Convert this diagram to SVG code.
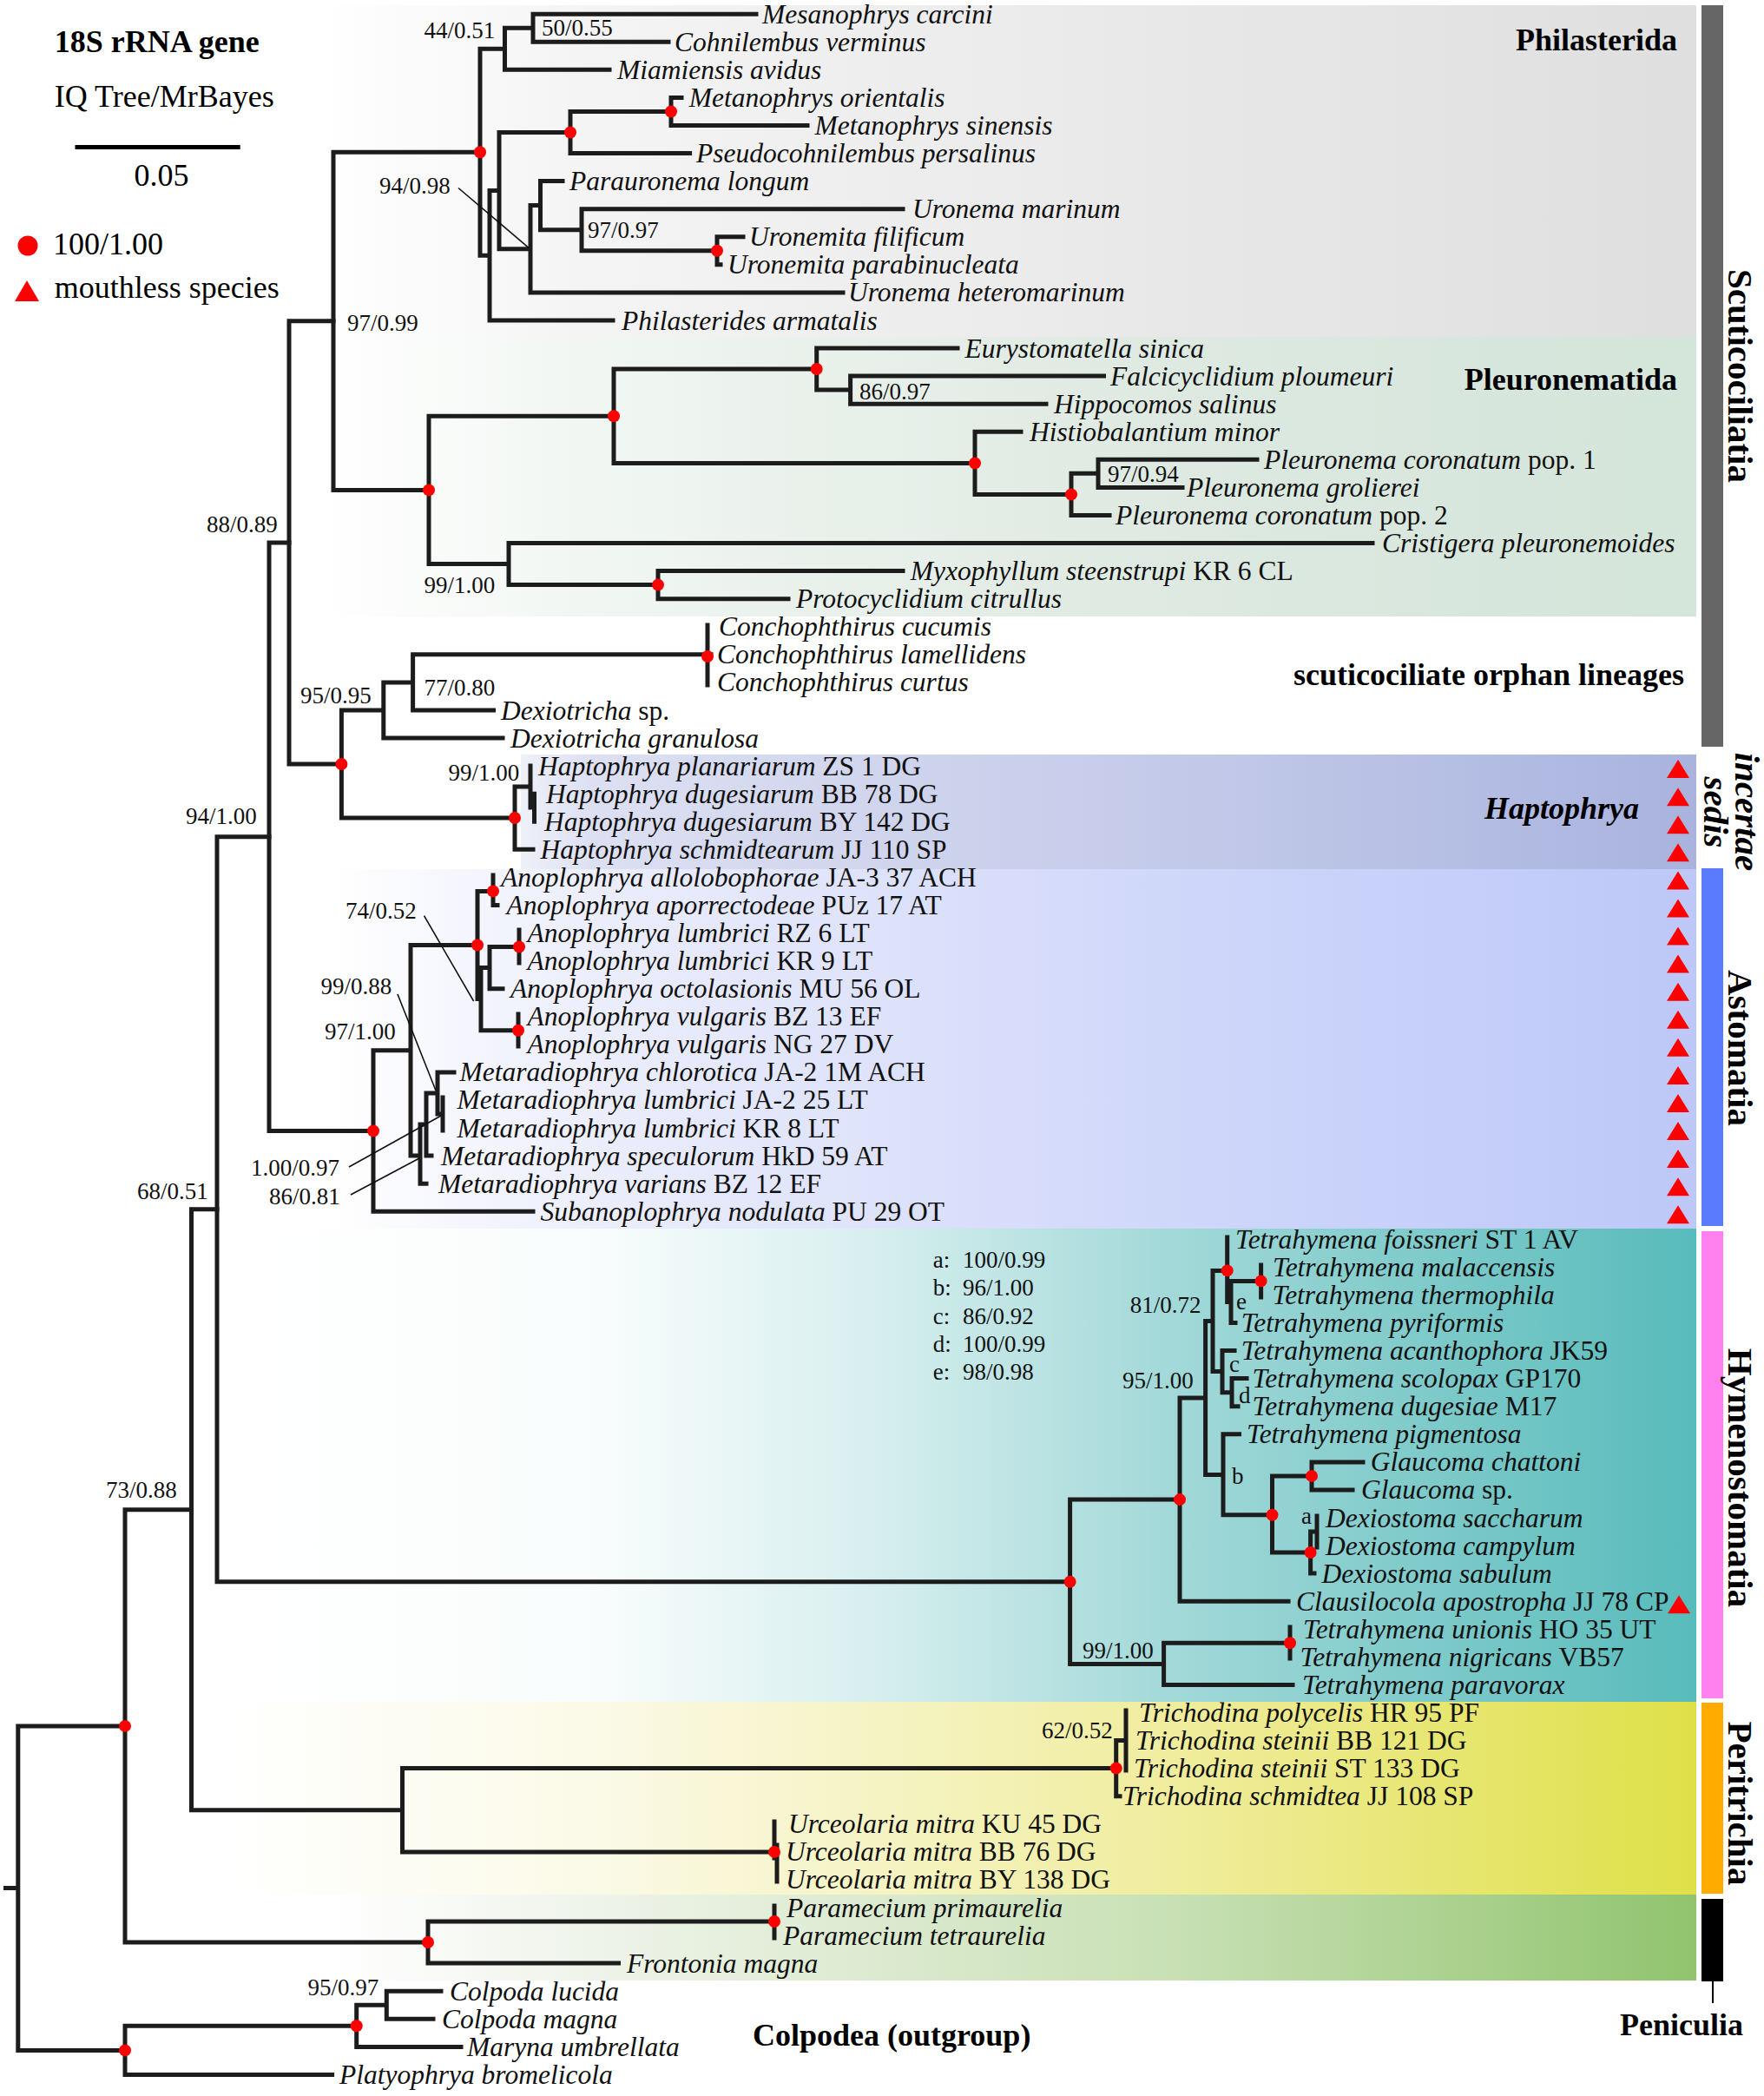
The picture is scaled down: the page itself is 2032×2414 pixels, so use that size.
<svg xmlns="http://www.w3.org/2000/svg" xmlns:xlink="http://www.w3.org/1999/xlink" width="2032" height="2414" viewBox="0 0 2032 2414">
<defs>
<style>
.ln{fill:none;stroke:#1c1c1c;stroke-width:5;stroke-linecap:square;stroke-linejoin:miter}
.pt{fill:none;stroke:#111;stroke-width:1.6}
.dot{fill:#ff0000}
.tri{fill:#ff0000}
.lf{font-family:"Liberation Serif","Times New Roman",serif;font-size:31.5px;font-style:italic;fill:#111}
.r{font-style:normal}
.sv{font-family:"Liberation Serif","Times New Roman",serif;font-size:27px;fill:#111}
.grp{font-family:"Liberation Serif","Times New Roman",serif;font-weight:bold;font-size:36px;fill:#000}
.vt{font-family:"Liberation Serif","Times New Roman",serif;font-weight:bold;font-size:41px;fill:#000}
.lg{font-family:"Liberation Serif","Times New Roman",serif;font-size:36px;fill:#000}
</style>
<linearGradient id="gPhil" gradientUnits="userSpaceOnUse" x1="365" y1="0" x2="1954" y2="0">
<stop offset="0" stop-color="#ffffff"/><stop offset="0.2" stop-color="#f4f4f4"/><stop offset="0.62" stop-color="#e8e8e8"/><stop offset="1" stop-color="#dfdfdf"/></linearGradient>
<linearGradient id="gPleu" gradientUnits="userSpaceOnUse" x1="365" y1="0" x2="1954" y2="0">
<stop offset="0" stop-color="#ffffff"/><stop offset="0.2" stop-color="#f1f6f2"/><stop offset="0.62" stop-color="#dde9e1"/><stop offset="1" stop-color="#d4e5da"/></linearGradient>
<linearGradient id="gHap" gradientUnits="userSpaceOnUse" x1="600" y1="0" x2="1954" y2="0">
<stop offset="0" stop-color="#eef0f9"/><stop offset="0.06" stop-color="#dde0f2"/><stop offset="0.56" stop-color="#c3cae9"/><stop offset="1" stop-color="#a9b3de"/></linearGradient>
<linearGradient id="gAst" gradientUnits="userSpaceOnUse" x1="380" y1="0" x2="1954" y2="0">
<stop offset="0" stop-color="#ffffff"/><stop offset="0.19" stop-color="#eceefc"/><stop offset="0.62" stop-color="#cfd7fa"/><stop offset="1" stop-color="#bdc8f8"/></linearGradient>
<linearGradient id="gHym" gradientUnits="userSpaceOnUse" x1="250" y1="0" x2="1954" y2="0">
<stop offset="0" stop-color="#ffffff"/><stop offset="0.25" stop-color="#fafdfd"/><stop offset="0.44" stop-color="#d8efef"/><stop offset="0.64" stop-color="#a4d9d9"/><stop offset="1" stop-color="#58bbbb"/></linearGradient>
<linearGradient id="gPer" gradientUnits="userSpaceOnUse" x1="250" y1="0" x2="1954" y2="0">
<stop offset="0" stop-color="#ffffff"/><stop offset="0.25" stop-color="#fbfae8"/><stop offset="0.64" stop-color="#f0ed9f"/><stop offset="1" stop-color="#dfe048"/></linearGradient>
<linearGradient id="gPen" gradientUnits="userSpaceOnUse" x1="380" y1="0" x2="1954" y2="0">
<stop offset="0" stop-color="#ffffff"/><stop offset="0.19" stop-color="#eff4ea"/><stop offset="0.62" stop-color="#c8e0b4"/><stop offset="1" stop-color="#91c46e"/></linearGradient>
<path id="tri" d="M-13 14 L13 14 L0 -7 Z"/>
</defs>
<rect x="0" y="0" width="2032" height="2414" fill="#ffffff"/>
<g id="bands">
<rect x="365" y="6" width="1589" height="382" fill="url(#gPhil)"/>
<rect x="365" y="388" width="1589" height="322" fill="url(#gPleu)"/>
<rect x="600" y="869" width="1354" height="132" fill="url(#gHap)"/>
<rect x="380" y="1001" width="1574" height="414" fill="url(#gAst)"/>
<rect x="250" y="1415" width="1704" height="545" fill="url(#gHym)"/>
<rect x="250" y="1960" width="1704" height="222" fill="url(#gPer)"/>
<rect x="380" y="2182" width="1574" height="99" fill="url(#gPen)"/>
</g>
<g id="bars">
<rect x="1960" y="6" width="25" height="854" fill="#666666"/>
<rect x="1960" y="1000" width="25" height="412" fill="#5b7bff"/>
<rect x="1960" y="1418" width="25" height="538" fill="#ff80ee"/>
<rect x="1960" y="1961" width="25" height="220" fill="#ffab00"/>
<rect x="1960" y="2187" width="25" height="95" fill="#000000"/>
<line x1="1973" y1="2282" x2="1973" y2="2307" stroke="#000" stroke-width="2"/>
</g>
<g id="legend">
<text class="grp" x="62.7" y="60">18S rRNA gene</text>
<text class="lg" x="62.7" y="122.5">IQ Tree/MrBayes</text>
<line x1="86.5" y1="169.5" x2="276.7" y2="169.5" stroke="#000" stroke-width="5"/>
<text class="lg" x="186" y="214" font-size="35" text-anchor="middle">0.05</text>
<circle class="dot" cx="32" cy="283" r="11.5"/>
<text class="lg" x="61" y="293">100/1.00</text>
<path class="tri" d="M17 347 L45 347 L31 323 Z"/>
<text class="lg" x="62.7" y="343">mouthless species</text>
</g>
<g id="connectors">
<path class="ln" d="M614 16.2V48.3M614 16.2H871M614 48.3H770M581.5 32.2V80.3M581.5 32.2H614M581.5 80.3H702M773 112.4V144.5M773 112.4H785M773 144.5H930M657 128.5V176.6M657 128.5H773M657 176.6H794.6M826 272.8V304.8M826 272.8H856M826 304.8H830M670 240.7V288.8M670 240.7H1040M670 288.8H826M622.5 208.6V264.7M622.5 208.6H648M622.5 264.7H670M611 236.6V336.9M611 236.6H622.5M611 336.9H971M575 152.5V286.8M575 152.5H657M575 286.8H611M564 219.6V369M564 219.6H575M564 369H706M553 56.2V294.3M553 56.2H581.5M553 294.3H564"/>
<path class="ln" d="M979.6 433.1V465.2M979.6 433.1H1271.5M979.6 465.2H1205M940.7 401V449.1M940.7 401H1103M940.7 449.1H979.6M1265 529.3V561.4M1265 529.3H1448M1265 561.4H1362M1234 545.3V593.5M1234 545.3H1265M1234 593.5H1278M1123 497.3V569.4M1123 497.3H1176M1123 569.4H1234M707 425V533.4M707 425H940.7M707 533.4H1123M758 657.6V689.7M758 657.6H1040M758 689.7H908M586 625.5V673.6M586 625.5H1581M586 673.6H758M494 479.2V649.6M494 479.2H707M494 649.6H586M384 175.2V564.4M384 175.2H553M384 564.4H494"/>
<path class="ln" d="M815 720V789M815 753.8H819M475.6 753.8V818M475.6 753.8H815M475.6 818H568.5M441.8 785.9V850M441.8 785.9H475.6M441.8 850H579M611 882.1V930M611 930H615.5M615.5 914.2V946.2M593 906V978.3M593 906H611M593 978.3H614M393.4 818V942M393.4 818H441.8M393.4 942H593M333 369.8V880M333 369.8H384M333 880H393.4"/>
<path class="ln" d="M568 1008V1042.4M568 1042.4H573M598 1071V1109M564 1090.5V1138.7M564 1090.5H598M564 1138.7H579M597 1168V1205M554 1114.6V1186.7M554 1114.6H564M554 1186.7H597M550 1026.4V1150.6M550 1026.4H568M550 1150.6H554M510 1264V1302M504 1234.9V1283M504 1234.9H523M504 1283H510M491 1259V1331.1M491 1259H504M491 1331.1H497M484 1295V1363.2M484 1295H491M484 1363.2H491M473 1088.5V1331M473 1088.5H550M473 1331H484M430 1209.8V1395.2M430 1209.8H473M430 1395.2H614M310 624.9V1302.5M310 624.9H333M310 1302.5H430"/>
<path class="ln" d="M1452.6 1457V1494M1418 1475.4V1523.5M1418 1475.4H1452.6M1418 1523.5H1423M1413.7 1425V1499.5M1413.7 1499.5H1418M1397 1463.4V1579.6M1397 1463.4H1413.7M1397 1579.6H1408M1408 1555.6V1603.7M1408 1555.6H1422M1408 1603.7H1419M1419 1587.6V1619.7M1419 1587.6H1436M1419 1619.7H1426M1388.6 1521.5V1698.4M1388.6 1521.5H1397M1388.6 1698.4H1409M1409 1651.8V1744.8M1409 1651.8H1427.5M1409 1744.8H1465.5M1465.5 1699.9V1788M1465.5 1699.9H1511M1465.5 1788H1509.6M1511 1683.9V1715.9M1511 1683.9H1570M1511 1715.9H1558M1509.6 1764V1812.1M1509.6 1764H1517M1509.6 1812.1H1514M1517 1746V1782M1359 1610V1844.2M1359 1610H1388.6M1359 1844.2H1484M1486 1874V1910M1340.6 1892.3V1940.4M1340.6 1892.3H1486M1340.6 1940.4H1489M1232.6 1727.1V1916.4M1232.6 1727.1H1359M1232.6 1916.4H1340.6M250 963.7V1821.75M250 963.7H310M250 1821.75H1232.6"/>
<path class="ln" d="M1297 1970V2039M1285.7 2004.6V2068.7M1285.7 2004.6H1297M1285.7 2068.7H1290M892 2098V2140M895 2125V2167M463.5 2036.6V2132.9M463.5 2036.6H1285.7M463.5 2132.9H892M220.5 1392.7V2084.75M220.5 1392.7H250M220.5 2084.75H463.5M892 2195V2232M493 2213V2261.1M493 2213H892M493 2261.1H712.5M144 1738.7V2237M144 1738.7H220.5M144 2237H493M445.3 2293.2V2325.3M445.3 2293.2H508M445.3 2325.3H499M410.7 2309.2V2357.4M410.7 2309.2H445.3M410.7 2357.4H531M144 2333.3V2389.4M144 2333.3H410.7M144 2389.4H382.6M20.8 1987.9V2361.4M20.8 1987.9H144M20.8 2361.4H144M6.5 2174.6H20.8"/>
<path class="pt" d="M528 216.5L609.6 285.8M488.5 1054.7L545.6 1153M458 1145L502 1256M402 1344L508 1285M404 1376L483 1334"/>
</g>
<g id="support-dots">
<circle class="dot" cx="553" cy="175.2" r="7"/><circle class="dot" cx="657" cy="152.5" r="7"/><circle class="dot" cx="773" cy="128.5" r="7"/><circle class="dot" cx="826" cy="288.8" r="7"/><circle class="dot" cx="940.7" cy="425" r="7"/><circle class="dot" cx="707" cy="479.2" r="7"/><circle class="dot" cx="1123" cy="533.4" r="7"/><circle class="dot" cx="1234" cy="569.4" r="7"/><circle class="dot" cx="758" cy="673.6" r="7"/><circle class="dot" cx="494" cy="564.4" r="7"/><circle class="dot" cx="815" cy="756" r="7"/><circle class="dot" cx="393.4" cy="880" r="7"/><circle class="dot" cx="593" cy="942" r="7"/><circle class="dot" cx="568" cy="1026.4" r="7"/><circle class="dot" cx="550" cy="1088.5" r="7"/><circle class="dot" cx="598" cy="1090.5" r="7"/><circle class="dot" cx="597" cy="1186.7" r="7"/><circle class="dot" cx="430" cy="1302.5" r="7"/><circle class="dot" cx="1413.7" cy="1463.4" r="7"/><circle class="dot" cx="1452.6" cy="1475.4" r="7"/><circle class="dot" cx="1511" cy="1699.9" r="7"/><circle class="dot" cx="1465.5" cy="1744.8" r="7"/><circle class="dot" cx="1509.6" cy="1788" r="7"/><circle class="dot" cx="1359" cy="1727.1" r="7"/><circle class="dot" cx="1232.6" cy="1821.75" r="7"/><circle class="dot" cx="1486" cy="1892.3" r="7"/><circle class="dot" cx="1285.7" cy="2036.6" r="7"/><circle class="dot" cx="892" cy="2132.9" r="7"/><circle class="dot" cx="892" cy="2213" r="7"/><circle class="dot" cx="493" cy="2237" r="7"/><circle class="dot" cx="144" cy="1987.9" r="7"/><circle class="dot" cx="410.7" cy="2333.3" r="7"/><circle class="dot" cx="144" cy="2361.4" r="7"/>
</g>
<g id="support-labels">
<text class="sv" x="488.5" y="44">44/0.51</text>
<text class="sv" x="624" y="41">50/0.55</text>
<text class="sv" x="437" y="223.4">94/0.98</text>
<text class="sv" x="677" y="274">97/0.97</text>
<text class="sv" x="400" y="381">97/0.99</text>
<text class="sv" x="990" y="460">86/0.97</text>
<text class="sv" x="1276" y="554.7">97/0.94</text>
<text class="sv" x="238" y="613">88/0.89</text>
<text class="sv" x="488.5" y="683">99/1.00</text>
<text class="sv" x="346" y="810">95/0.95</text>
<text class="sv" x="488.5" y="800.5">77/0.80</text>
<text class="sv" x="516.6" y="898.7">99/1.00</text>
<text class="sv" x="214" y="948.8">94/1.00</text>
<text class="sv" x="398" y="1057.8">74/0.52</text>
<text class="sv" x="369.6" y="1145">99/0.88</text>
<text class="sv" x="374" y="1197">97/1.00</text>
<text class="sv" x="289" y="1353.6">1.00/0.97</text>
<text class="sv" x="310" y="1387">86/0.81</text>
<text class="sv" x="158" y="1381.3">68/0.51</text>
<text class="sv" x="122" y="1725">73/0.88</text>
<text class="sv" x="1301.7" y="1512">81/0.72</text>
<text class="sv" x="1293" y="1599">95/1.00</text>
<text class="sv" x="1247" y="1910">99/1.00</text>
<text class="sv" x="1200" y="2002">62/0.52</text>
<text class="sv" x="354.5" y="2297.6">95/0.97</text>
<text class="sv" x="1424" y="1508">e</text>
<text class="sv" x="1416" y="1580">c</text>
<text class="sv" x="1427" y="1615.5">d</text>
<text class="sv" x="1419" y="1709">b</text>
<text class="sv" x="1499" y="1755">a</text>
<text class="sv" font-size="28" y="1460"><tspan x="1074.7">a:</tspan><tspan x="1109">100/0.99</tspan></text>
<text class="sv" font-size="28" y="1492"><tspan x="1074.7">b:</tspan><tspan x="1109">96/1.00</tspan></text>
<text class="sv" font-size="28" y="1524.6"><tspan x="1074.7">c:</tspan><tspan x="1109">86/0.92</tspan></text>
<text class="sv" font-size="28" y="1556.6"><tspan x="1074.7">d:</tspan><tspan x="1109">100/0.99</tspan></text>
<text class="sv" font-size="28" y="1588.6"><tspan x="1074.7">e:</tspan><tspan x="1109">98/0.98</tspan></text>
</g>
<g id="group-labels">
<text class="grp" x="1932" y="58" text-anchor="end">Philasterida</text>
<text class="grp" x="1932" y="449" text-anchor="end">Pleuronematida</text>
<text class="grp" x="1940" y="789" text-anchor="end">scuticociliate orphan lineages</text>
<text class="grp" x="1888" y="943" text-anchor="end" font-style="italic">Haptophrya</text>
<text class="grp" x="867" y="2356" font-size="38">Colpodea (outgroup)</text>
<text class="grp" x="1866" y="2344" font-size="40">Peniculia</text>
<text class="vt" transform="translate(1991,433) rotate(90)" text-anchor="middle">Scuticociliatia</text>
<text class="vt" transform="translate(1999,935) rotate(90)" text-anchor="middle" font-style="italic" font-size="40">incertae</text>
<text class="vt" transform="translate(1963,935.5) rotate(90)" text-anchor="middle" font-style="italic" font-size="40">sedis</text>
<text class="vt" transform="translate(1991,1207) rotate(90)" text-anchor="middle">Astomatia</text>
<text class="vt" transform="translate(1991,1702) rotate(90)" text-anchor="middle">Hymenostomatia</text>
<text class="vt" transform="translate(1991,2077) rotate(90)" text-anchor="middle">Peritrichia</text>
</g>
<g id="taxa">
<g id="t01"><text class="lf" x="878" y="26.7">Mesanophrys carcini</text></g>
<g id="t02"><text class="lf" x="777" y="58.8">Cohnilembus verminus</text></g>
<g id="t03"><text class="lf" x="711" y="90.8">Miamiensis avidus</text></g>
<g id="t04"><text class="lf" x="793.7" y="122.9">Metanophrys orientalis</text></g>
<g id="t05"><text class="lf" x="938.6" y="155">Metanophrys sinensis</text></g>
<g id="t06"><text class="lf" x="802" y="187.1">Pseudocohnilembus persalinus</text></g>
<g id="t07"><text class="lf" x="656" y="219.1">Parauronema longum</text></g>
<g id="t08"><text class="lf" x="1051" y="251.2">Uronema marinum</text></g>
<g id="t09"><text class="lf" x="863" y="283.3">Uronemita filificum</text></g>
<g id="t10"><text class="lf" x="838" y="315.3">Uronemita parabinucleata</text></g>
<g id="t11"><text class="lf" x="977" y="347.4">Uronema heteromarinum</text></g>
<g id="t12"><text class="lf" x="716" y="379.5">Philasterides armatalis</text></g>
<g id="t13"><text class="lf" x="1111.5" y="411.5">Eurystomatella sinica</text></g>
<g id="t14"><text class="lf" x="1279" y="443.6">Falcicyclidium ploumeuri</text></g>
<g id="t15"><text class="lf" x="1214" y="475.7">Hippocomos salinus</text></g>
<g id="t16"><text class="lf" x="1186" y="507.8">Histiobalantium minor</text></g>
<g id="t17"><text class="lf" x="1456" y="539.8">Pleuronema coronatum <tspan class="r">pop. 1</tspan></text></g>
<g id="t18"><text class="lf" x="1367" y="571.9">Pleuronema grolierei</text></g>
<g id="t19"><text class="lf" x="1285" y="604">Pleuronema coronatum <tspan class="r">pop. 2</tspan></text></g>
<g id="t20"><text class="lf" x="1592" y="636">Cristigera pleuronemoides</text></g>
<g id="t21"><text class="lf" x="1048.8" y="668.1">Myxophyllum steenstrupi <tspan class="r">KR 6 CL</tspan></text></g>
<g id="t22"><text class="lf" x="917" y="700.2">Protocyclidium citrullus</text></g>
<g id="t23"><text class="lf" x="828" y="732.2">Conchophthirus cucumis</text></g>
<g id="t24"><text class="lf" x="826" y="764.3">Conchophthirus lamellidens</text></g>
<g id="t25"><text class="lf" x="826" y="796.4">Conchophthirus curtus</text></g>
<g id="t26"><text class="lf" x="577" y="828.5">Dexiotricha <tspan class="r">sp.</tspan></text></g>
<g id="t27"><text class="lf" x="588" y="860.5">Dexiotricha granulosa</text></g>
<g id="t28"><text class="lf" x="620" y="892.6">Haptophrya planariarum <tspan class="r">ZS 1 DG</tspan></text><use href="#tri" class="tri" x="1933" y="882.1"/></g>
<g id="t29"><text class="lf" x="629" y="924.7">Haptophrya dugesiarum <tspan class="r">BB 78 DG</tspan></text><use href="#tri" class="tri" x="1933" y="914.2"/></g>
<g id="t30"><text class="lf" x="627" y="956.7">Haptophrya dugesiarum <tspan class="r">BY 142 DG</tspan></text><use href="#tri" class="tri" x="1933" y="946.2"/></g>
<g id="t31"><text class="lf" x="622.6" y="988.8">Haptophrya schmidtearum <tspan class="r">JJ 110 SP</tspan></text><use href="#tri" class="tri" x="1933" y="978.3"/></g>
<g id="t32"><text class="lf" x="577" y="1020.9">Anoplophrya allolobophorae <tspan class="r">JA-3 37 ACH</tspan></text><use href="#tri" class="tri" x="1933" y="1010.4"/></g>
<g id="t33"><text class="lf" x="583.6" y="1052.9">Anoplophrya aporrectodeae <tspan class="r">PUz 17 AT</tspan></text><use href="#tri" class="tri" x="1933" y="1042.4"/></g>
<g id="t34"><text class="lf" x="607.4" y="1085">Anoplophrya lumbrici <tspan class="r">RZ 6 LT</tspan></text><use href="#tri" class="tri" x="1933" y="1074.5"/></g>
<g id="t35"><text class="lf" x="607.4" y="1117.1">Anoplophrya lumbrici <tspan class="r">KR 9 LT</tspan></text><use href="#tri" class="tri" x="1933" y="1106.6"/></g>
<g id="t36"><text class="lf" x="588" y="1149.2">Anoplophrya octolasionis <tspan class="r">MU 56 OL</tspan></text><use href="#tri" class="tri" x="1933" y="1138.7"/></g>
<g id="t37"><text class="lf" x="607.4" y="1181.2">Anoplophrya vulgaris <tspan class="r">BZ 13 EF</tspan></text><use href="#tri" class="tri" x="1933" y="1170.7"/></g>
<g id="t38"><text class="lf" x="607.4" y="1213.3">Anoplophrya vulgaris <tspan class="r">NG 27 DV</tspan></text><use href="#tri" class="tri" x="1933" y="1202.8"/></g>
<g id="t39"><text class="lf" x="529.6" y="1245.4">Metaradiophrya chlorotica <tspan class="r">JA-2 1M ACH</tspan></text><use href="#tri" class="tri" x="1933" y="1234.9"/></g>
<g id="t40"><text class="lf" x="526.6" y="1277.4">Metaradiophrya lumbrici <tspan class="r">JA-2 25 LT</tspan></text><use href="#tri" class="tri" x="1933" y="1266.9"/></g>
<g id="t41"><text class="lf" x="526.6" y="1309.5">Metaradiophrya lumbrici <tspan class="r">KR 8 LT</tspan></text><use href="#tri" class="tri" x="1933" y="1299"/></g>
<g id="t42"><text class="lf" x="508" y="1341.6">Metaradiophrya speculorum <tspan class="r">HkD 59 AT</tspan></text><use href="#tri" class="tri" x="1933" y="1331.1"/></g>
<g id="t43"><text class="lf" x="505" y="1373.7">Metaradiophrya varians <tspan class="r">BZ 12 EF</tspan></text><use href="#tri" class="tri" x="1933" y="1363.2"/></g>
<g id="t44"><text class="lf" x="622.6" y="1405.7">Subanoplophrya nodulata <tspan class="r">PU 29 OT</tspan></text><use href="#tri" class="tri" x="1933" y="1395.2"/></g>
<g id="t45"><text class="lf" x="1423" y="1437.8">Tetrahymena foissneri <tspan class="r">ST 1 AV</tspan></text></g>
<g id="t46"><text class="lf" x="1466" y="1469.9">Tetrahymena malaccensis</text></g>
<g id="t47"><text class="lf" x="1465.5" y="1501.9">Tetrahymena thermophila</text></g>
<g id="t48"><text class="lf" x="1429.7" y="1534">Tetrahymena pyriformis</text></g>
<g id="t49"><text class="lf" x="1429.7" y="1566.1">Tetrahymena acanthophora <tspan class="r">JK59</tspan></text></g>
<g id="t50"><text class="lf" x="1442.6" y="1598.1">Tetrahymena scolopax <tspan class="r">GP170</tspan></text></g>
<g id="t51"><text class="lf" x="1442.6" y="1630.2">Tetrahymena dugesiae <tspan class="r">M17</tspan></text></g>
<g id="t52"><text class="lf" x="1436" y="1662.3">Tetrahymena pigmentosa</text></g>
<g id="t53"><text class="lf" x="1578.8" y="1694.4">Glaucoma chattoni</text></g>
<g id="t54"><text class="lf" x="1568" y="1726.4">Glaucoma <tspan class="r">sp.</tspan></text></g>
<g id="t55"><text class="lf" x="1527" y="1758.5">Dexiostoma saccharum</text></g>
<g id="t56"><text class="lf" x="1527" y="1790.6">Dexiostoma campylum</text></g>
<g id="t57"><text class="lf" x="1522.6" y="1822.6">Dexiostoma sabulum</text></g>
<g id="t58"><text class="lf" x="1493" y="1854.7">Clausilocola apostropha <tspan class="r">JJ 78 CP</tspan></text><use href="#tri" class="tri" x="1934" y="1844.2"/></g>
<g id="t59"><text class="lf" x="1501" y="1886.8">Tetrahymena unionis <tspan class="r">HO 35 UT</tspan></text></g>
<g id="t60"><text class="lf" x="1497.5" y="1918.9">Tetrahymena nigricans <tspan class="r">VB57</tspan></text></g>
<g id="t61"><text class="lf" x="1500" y="1950.9">Tetrahymena paravorax</text></g>
<g id="t62"><text class="lf" x="1312" y="1983">Trichodina polycelis <tspan class="r">HR 95 PF</tspan></text></g>
<g id="t63"><text class="lf" x="1308" y="2015.1">Trichodina steinii <tspan class="r">BB 121 DG</tspan></text></g>
<g id="t64"><text class="lf" x="1306" y="2047.1">Trichodina steinii <tspan class="r">ST 133 DG</tspan></text></g>
<g id="t65"><text class="lf" x="1293" y="2079.2">Trichodina schmidtea <tspan class="r">JJ 108 SP</tspan></text></g>
<g id="t66"><text class="lf" x="908" y="2111.3">Urceolaria mitra <tspan class="r">KU 45 DG</tspan></text></g>
<g id="t67"><text class="lf" x="905" y="2143.4">Urceolaria mitra <tspan class="r">BB 76 DG</tspan></text></g>
<g id="t68"><text class="lf" x="905" y="2175.4">Urceolaria mitra <tspan class="r">BY 138 DG</tspan></text></g>
<g id="t69"><text class="lf" x="906" y="2207.5">Paramecium primaurelia</text></g>
<g id="t70"><text class="lf" x="902" y="2239.6">Paramecium tetraurelia</text></g>
<g id="t71"><text class="lf" x="722" y="2271.6">Frontonia magna</text></g>
<g id="t72"><text class="lf" x="518" y="2303.7">Colpoda lucida</text></g>
<g id="t73"><text class="lf" x="509" y="2335.8">Colpoda magna</text></g>
<g id="t74"><text class="lf" x="538" y="2367.9">Maryna umbrellata</text></g>
<g id="t75"><text class="lf" x="391" y="2399.9">Platyophrya bromelicola</text></g>
</g>
</svg>
